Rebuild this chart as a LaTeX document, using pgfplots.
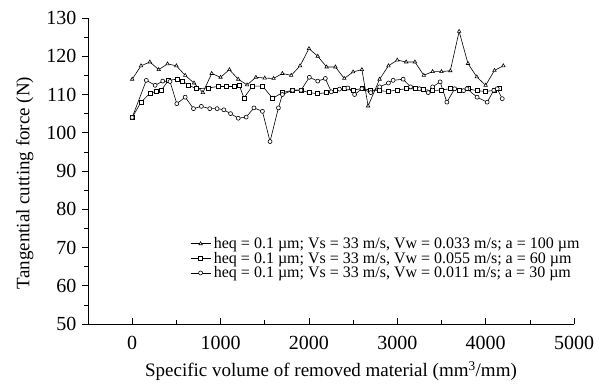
\documentclass[border=0pt]{standalone}
\usepackage{fontspec}
\setmainfont{Liberation Serif}
\usepackage{pgfplots}
\pgfplotsset{compat=1.18}
\begin{document}
\begin{tikzpicture}
\begin{axis}[
  scale only axis, width=486pt, height=306pt,
  xmin=-500, xmax=5000, ymin=50, ymax=130,
  axis x line*=bottom, axis y line*=left,
  tick align=inside,
  xtick={0,1000,...,5000}, ytick={50,60,...,130},
  minor x tick num=1, minor y tick num=1,
  major tick length=6pt, minor tick length=4pt,
  every major y tick/.append style={xshift=-6pt},
  every minor y tick/.append style={xshift=-4pt},
  every tick/.append style={black, line width=0.6pt},
  axis line style={line width=0.6pt},
  /pgf/number format/assume math mode=true,
  /pgf/number format/1000 sep={},
  tick label style={font=\fontsize{20}{20}\selectfont},
  yticklabel style={xshift=-8pt},
  xticklabel style={yshift=-9pt},
  label style={font=\fontsize{19}{19}\selectfont},
  xlabel style={yshift=-5pt},
  ylabel style={yshift=6pt, xshift=-12pt},
  xlabel={Specific volume of removed material (mm\textsuperscript{3}/mm)},
  ylabel={Tangential cutting force (N)},
  legend style={at={(1.02,0.29)}, anchor=north east, draw=none, fill=none,
    font=\fontsize{16}{18}\selectfont, row sep=0pt, inner sep=1pt,
    nodes={inner xsep=3pt, inner ysep=1pt}},
  legend cell align=left,
  legend image code/.code={\draw[mark repeat=2,mark phase=2,#1] plot coordinates {(0pt,0pt) (10pt,0pt) (20pt,0pt)};},
  every axis plot/.append style={black, line width=0.6pt, mark size=2pt, mark options={fill=white, solid}},
]
\addplot[mark=triangle*] coordinates {
(0,114) (100,117.5) (200,118.5) (300,116.5) (400,118) (500,117.5) (600,115)
(700,113) (800,110.5) (900,115.5) (1000,114.5) (1100,116.5) (1200,114)
(1300,112.5) (1400,114.5) (1500,114.3) (1600,114.2) (1700,115.5) (1800,115)
(1900,117.5) (2000,122) (2100,120) (2200,117.2) (2300,117.2) (2400,114.2)
(2500,115.9) (2600,116.5) (2670,107) (2800,114) (2900,117.5) (3000,119)
(3100,118.5) (3200,118.5) (3300,115) (3400,116) (3500,116) (3600,116.2)
(3700,126.5) (3800,118.1) (3900,114.6) (4000,112.4) (4100,116.3) (4200,117.5)
};
\addlegendentry{heq = 0.1 µm; Vs = 33 m/s, Vw = 0.033 m/s; a = 100 µm}
\addplot[mark=square*] coordinates {
(0,104) (100,108) (200,110.3) (270,110.8) (330,111.1) (410,113.7) (505,114)
(570,113.5) (640,112.4) (730,111.5) (860,111.7) (970,112.1) (1060,112.1)
(1150,112.1) (1210,112.5) (1265,109.1) (1360,112.2) (1475,112.2) (1590,109)
(1700,110.5) (1815,111.1) (1910,111.1) (2000,110.5) (2100,110.2) (2200,110.5)
(2300,111) (2400,111.5) (2500,111.2) (2600,111.5) (2700,111.2) (2800,111)
(2900,110.8) (3000,111.2) (3100,111.5) (3200,111.5) (3300,111.3) (3400,111)
(3500,111.2) (3600,111.5) (3700,111.2) (3800,111.5) (3900,111) (4000,110.8)
(4100,111.1) (4150,111.5)
};
\addlegendentry{heq = 0.1 µm; Vs = 33 m/s, Vw = 0.055 m/s; a = 60 µm}
\addplot[mark=*] coordinates {
(0,104) (160,113.7) (260,112.4) (346,113.5) (428,113.4) (505,107.6) (600,109.3)
(694,106.3) (783,106.9) (878,106.3) (961,106.3) (1037,106) (1113,105)
(1200,103.8) (1290,104.1) (1378,106.5) (1474,105.6) (1560,97.7) (1655,106.5)
(1700,110) (1815,111.1) (1910,111.1) (2005,114.5) (2100,113.5) (2186,114.2)
(2253,110.7) (2346,111.4) (2441,111.7) (2517,110) (2600,111.5) (2700,110.5)
(2800,112) (2900,113) (2953,113.7) (3066,114) (3150,112) (3250,111.5)
(3350,110.5) (3400,112) (3485,113.3) (3561,108) (3650,111.5) (3750,111)
(3789,111.5) (3903,109.3) (4017,108) (4092,111.1) (4131,111.5) (4188,108.9)
};
\addlegendentry{heq = 0.1 µm; Vs = 33 m/s, Vw = 0.011 m/s; a = 30 µm}
\end{axis}
\pgfresetboundingbox
\path[use as bounding box] (-88pt,-61pt) rectangle (513pt,324pt);
\end{tikzpicture}
\end{document}
